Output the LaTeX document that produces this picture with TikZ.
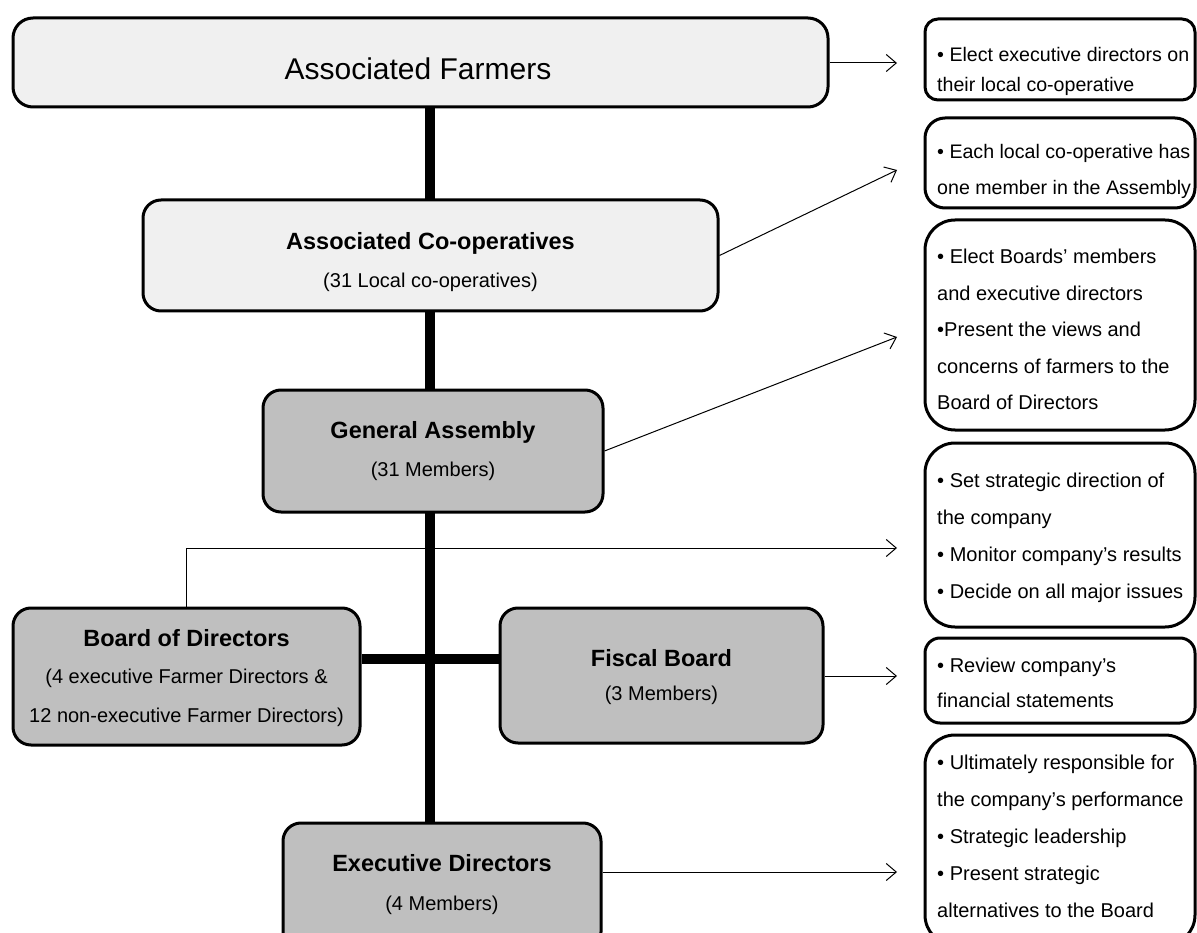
\documentclass[tikz,border=0pt]{standalone}
\usepackage{fontspec}
\setmainfont{Liberation Sans}
\usetikzlibrary{arrows.meta}
\definecolor{lightfill}{HTML}{F0F0F0}
\definecolor{darkfill}{HTML}{BFBFBF}
\pgfdeclarelayer{background}
\pgfsetlayers{background,main}
\begin{document}
\begin{tikzpicture}[x=1pt,y=-1pt,
  box/.style={draw, line width=3pt, rounded corners=18pt, inner sep=0pt},
  light/.style={fill=lightfill},
  dark/.style={fill=darkfill},
  rbox/.style={draw, line width=3pt, inner sep=0pt, minimum width=270},
  link/.style={line width=1pt, -{Straight Barb[length=10pt,width=17pt]}},
  trunk/.style={line width=10pt},
  ttl/.style={font=\fontsize{23.5}{28}\selectfont\bfseries, anchor=base, inner sep=0pt},
  sub/.style={font=\fontsize{20}{38.5}\selectfont, anchor=base, inner sep=0pt},
  note/.style={anchor=base west, inner sep=0pt}]
\useasboundingbox (0,0) rectangle (1197,933);

% organisation boxes
\node[box, light, rounded corners=20pt, minimum width=815, minimum height=89] (af) at (420.5,62.5) {};
\node[box, light, minimum width=575, minimum height=111] (co) at (430.5,255.5) {};
\node[box, dark, minimum width=340, minimum height=122] (ga) at (433,451) {};
\node[box, dark, minimum width=347, minimum height=137] (bd) at (186.5,676.5) {};
\node[box, dark, minimum width=323, minimum height=135] (fb) at (661.5,675.5) {};
\node[box, dark, minimum width=318, minimum height=127] (ex) at (442,886.5) {};

% box texts
\node[anchor=base, inner sep=0pt, font=\fontsize{30}{36}\selectfont] (af-t) at (418,80) {Associated Farmers};
\node[ttl] (co-t) at (430.5,250) {Associated Co-operatives};
\node[sub] (co-s) at (430.5,288) {(31 Local co-operatives)};
\node[ttl] (ga-t) at (433,438) {General Assembly};
\node[sub] (ga-s) at (433,476) {(31 Members)};
\node[ttl] (bd-t) at (186.5,646) {Board of Directors};
\node[sub] (bd-s) at (186.5,683) {(4 executive Farmer Directors \&};
\node[sub] (bd-s2) at (186.5,722) {12 non-executive Farmer Directors)};
\node[ttl] (fb-t) at (661.5,666) {Fiscal Board};
\node[sub] (fb-s) at (661.5,700) {(3 Members)};
\node[ttl] (ex-t) at (442,871) {Executive Directors};
\node[sub] (ex-s) at (442,910) {(4 Members)};

% description boxes
\node[rbox, rounded corners=13pt, minimum height=81] (r1) at (1060,59.5) {};
\node[rbox, rounded corners=20pt, minimum height=90] (r2) at (1060,163) {};
\node[rbox, rounded corners=30pt, minimum height=210] (r3) at (1060,325) {};
\node[rbox, rounded corners=30pt, minimum height=184] (r4) at (1060,535) {};
\node[rbox, rounded corners=15pt, minimum height=85] (r5) at (1060,680.5) {};
\node[rbox, rounded corners=30pt, minimum height=210] (r6) at (1060,840) {};

\node[note] (r1-t) at (937,62) {\parbox[t]{265pt}{\fontsize{19.6}{30}\selectfont\raggedright
  \textbullet\ Elect executive directors on\\their local co-operative}};
\node[note] (r2-t) at (937,159) {\parbox[t]{265pt}{\fontsize{19.6}{36}\selectfont\raggedright
  \textbullet\ Each local co-operative has\\one member in the Assembly}};
\node[note] (r3-t) at (937,264) {\parbox[t]{265pt}{\fontsize{20}{36.5}\selectfont\raggedright
  \textbullet\ Elect Boards’ members\\and executive directors\\\textbullet Present the views and\\concerns of farmers to the\\Board of Directors}};
\node[note] (r4-t) at (937,487) {\parbox[t]{265pt}{\fontsize{20}{37}\selectfont\raggedright
  \textbullet\ Set strategic direction of\\the company\\\textbullet\ Monitor company’s results\\\textbullet\ Decide on all major issues}};
\node[note] (r5-t) at (937,672) {\parbox[t]{265pt}{\fontsize{20}{35}\selectfont\raggedright
  \textbullet\ Review company’s\\financial statements}};
\node[note] (r6-t) at (937,769) {\parbox[t]{265pt}{\fontsize{20}{37}\selectfont\raggedright
  \textbullet\ Ultimately responsible for\\the company’s performance\\\textbullet\ Strategic leadership\\\textbullet\ Present strategic\\alternatives to the Board}};

% arrow tips in front of the description boxes
\coordinate (t1) at (897,63);
\coordinate (t2) at (897,170);
\coordinate (t3) at (897,337);
\coordinate (t4) at (897,548);
\coordinate (t5) at (897,676);
\coordinate (t6) at (897,872);
\coordinate (bar) at (430,659);

% spine and cross bar behind the boxes
\begin{pgfonlayer}{background}
\draw[trunk] (af.south -| bar) -- (ex.north -| bar);
\draw[trunk] (bar -| bd.east) -- (bar -| fb.west);
\end{pgfonlayer}

% connectors
\draw[link] (af.east |- t1) -- (t1);
\draw[link] (co.east) -- (t2);
\draw[link] (ga.east) -- (t3);
\draw[link] (bd.north) |- (t4);
\draw[link] (fb.east |- t5) -- (t5);
\draw[link] (ex.east |- t6) -- (t6);
\end{tikzpicture}
\end{document}
